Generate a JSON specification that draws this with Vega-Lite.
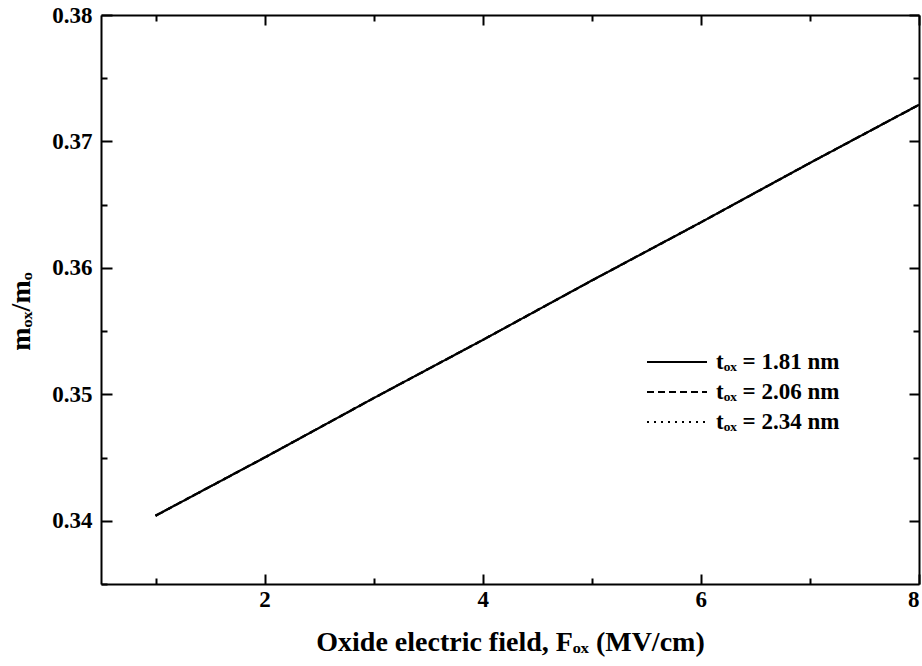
{
  "$schema": "https://vega.github.io/schema/vega-lite/v6.json",
  "width": 818,
  "height": 569,
  "autosize": {"type": "none"},
  "padding": {"left": 101, "top": 15, "right": 3, "bottom": 82},
  "background": "white",
  "config": {
    "view": {"stroke": null},
    "font": "Liberation Serif",
    "axis": {
      "domainColor": "black",
      "domainWidth": 2,
      "tickColor": "black",
      "tickWidth": 2,
      "grid": false,
      "labelFont": "Liberation Serif",
      "labelFontWeight": "bold",
      "labelFontSize": 23,
      "labelColor": "black",
      "titleFont": "Liberation Serif",
      "titleFontWeight": "bold",
      "titleFontSize": 28,
      "titleColor": "black"
    }
  },
  "data": {
    "values": [
      {"F": 1, "m": 0.3404, "series": "tₒₓ = 1.81 nm"},
      {"F": 2, "m": 0.3450, "series": "tₒₓ = 1.81 nm"},
      {"F": 3, "m": 0.3497, "series": "tₒₓ = 1.81 nm"},
      {"F": 4, "m": 0.3543, "series": "tₒₓ = 1.81 nm"},
      {"F": 5, "m": 0.3590, "series": "tₒₓ = 1.81 nm"},
      {"F": 6, "m": 0.3636, "series": "tₒₓ = 1.81 nm"},
      {"F": 7, "m": 0.3683, "series": "tₒₓ = 1.81 nm"},
      {"F": 8, "m": 0.3729, "series": "tₒₓ = 1.81 nm"},
      {"F": 1, "m": 0.3404, "series": "tₒₓ = 2.06 nm"},
      {"F": 2, "m": 0.3450, "series": "tₒₓ = 2.06 nm"},
      {"F": 3, "m": 0.3497, "series": "tₒₓ = 2.06 nm"},
      {"F": 4, "m": 0.3543, "series": "tₒₓ = 2.06 nm"},
      {"F": 5, "m": 0.3590, "series": "tₒₓ = 2.06 nm"},
      {"F": 6, "m": 0.3636, "series": "tₒₓ = 2.06 nm"},
      {"F": 7, "m": 0.3683, "series": "tₒₓ = 2.06 nm"},
      {"F": 8, "m": 0.3729, "series": "tₒₓ = 2.06 nm"},
      {"F": 1, "m": 0.3404, "series": "tₒₓ = 2.34 nm"},
      {"F": 2, "m": 0.3450, "series": "tₒₓ = 2.34 nm"},
      {"F": 3, "m": 0.3497, "series": "tₒₓ = 2.34 nm"},
      {"F": 4, "m": 0.3543, "series": "tₒₓ = 2.34 nm"},
      {"F": 5, "m": 0.3590, "series": "tₒₓ = 2.34 nm"},
      {"F": 6, "m": 0.3636, "series": "tₒₓ = 2.34 nm"},
      {"F": 7, "m": 0.3683, "series": "tₒₓ = 2.34 nm"},
      {"F": 8, "m": 0.3729, "series": "tₒₓ = 2.34 nm"}
    ]
  },
  "resolve": {"axis": {"x": "independent", "y": "independent"}},
  "layer": [
    {
      "mark": {"type": "line", "strokeWidth": 2.2, "color": "black", "clip": true},
      "encoding": {
        "x": {
          "field": "F", "type": "quantitative",
          "scale": {"domain": [0.5, 8], "nice": false, "zero": false},
          "axis": {
            "orient": "bottom", "values": [2, 4, 6, 8], "tickSize": -10,
            "labelPadding": 14, "title": "Oxide electric field, Fₒₓ (MV/cm)",
            "titlePadding": 17
          }
        },
        "y": {
          "field": "m", "type": "quantitative",
          "scale": {"domain": [0.335, 0.38], "nice": false, "zero": false},
          "axis": {
            "orient": "left", "values": [0.34, 0.35, 0.36, 0.37, 0.38], "tickSize": -11,
            "labelPadding": 20, "format": ".2f", "title": "mₒₓ/mₒ", "titlePadding": 16,
            "titleY": 296
          }
        },
        "strokeDash": {
          "field": "series", "type": "nominal",
          "scale": {"range": [[1, 0], [7, 4], [2, 5]]},
          "legend": {
            "orient": "none", "legendX": 563, "legendY": 334,
            "title": null, "symbolType": "M-2.5,0H2.5", "symbolSize": 576,
            "symbolStrokeWidth": 2, "symbolStrokeColor": "black",
            "labelFont": "Liberation Serif", "labelFontWeight": "bold",
            "labelFontSize": 23, "labelColor": "black", "labelOffset": 26,
            "rowPadding": 5
          }
        }
      }
    },
    {
      "mark": {"type": "line", "strokeOpacity": 0},
      "encoding": {
        "x": {"field": "F", "type": "quantitative",
          "axis": {"orient": "bottom", "values": [1, 3, 5, 7], "tickSize": -6, "labels": false, "title": null, "domain": false}},
        "y": {"field": "m", "type": "quantitative",
          "axis": {"orient": "left", "values": [0.335, 0.345, 0.355, 0.365, 0.375], "tickSize": -6, "labels": false, "title": null, "domain": false}}
      }
    },
    {
      "mark": {"type": "line", "strokeOpacity": 0},
      "encoding": {
        "x": {"field": "F", "type": "quantitative",
          "axis": {"orient": "top", "values": [2, 4, 6, 8], "tickSize": -10, "labels": false, "title": null}},
        "y": {"field": "m", "type": "quantitative",
          "axis": {"orient": "right", "values": [0.34, 0.35, 0.36, 0.37, 0.38], "tickSize": -10, "labels": false, "title": null}}
      }
    },
    {
      "mark": {"type": "line", "strokeOpacity": 0},
      "encoding": {
        "x": {"field": "F", "type": "quantitative",
          "axis": {"orient": "top", "values": [1, 3, 5, 7], "tickSize": -6, "labels": false, "title": null, "domain": false}},
        "y": {"field": "m", "type": "quantitative",
          "axis": {"orient": "right", "values": [0.345, 0.355, 0.365, 0.375], "tickSize": -6, "labels": false, "title": null, "domain": false}}
      }
    }
  ]
}
